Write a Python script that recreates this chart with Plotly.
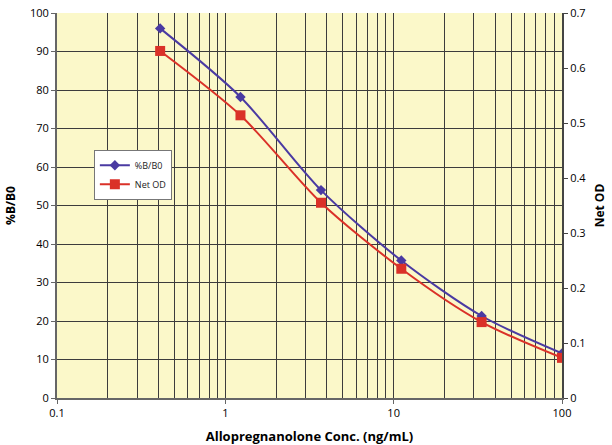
import plotly.graph_objects as go

# Standard concentrations (ng/mL) and responses
conc = [0.41, 1.23, 3.7, 11.1, 33.3, 100]
pct_b_b0 = [96.0, 78.2, 54.0, 35.7, 21.3, 11.6]
net_od = [0.631, 0.514, 0.355, 0.235, 0.138, 0.073]

x_ticks = [0.1, 1, 10, 100]
x_tick_labels = ["0.1", "1", "10", "100"]

BLUE = "#4a3aa2"
RED = "#da3128"
GRID = "#3c3c3c"
FONT = "'Open Sans', Lato, sans-serif"

fig = go.Figure()
fig.add_trace(go.Scatter(
    x=conc, y=pct_b_b0, name="%B/B0", mode="lines+markers",
    line=dict(color=BLUE, width=2, shape="spline", smoothing=0.8),
    marker=dict(symbol="diamond", size=8, color=BLUE),
))
fig.add_trace(go.Scatter(
    x=conc, y=net_od, name="Net OD", mode="lines+markers", yaxis="y2",
    line=dict(color=RED, width=2, shape="spline", smoothing=0.8),
    marker=dict(symbol="square", size=10, color=RED),
))

fig.update_layout(
    width=612, height=445,
    margin=dict(l=57, r=50, t=13, b=47),
    paper_bgcolor="white",
    plot_bgcolor="#fbf8c9",
    font=dict(family=FONT, size=11, color="#000"),
    showlegend=True,
    legend=dict(
        x=0.073, y=0.645, xanchor="left", yanchor="top",
        bgcolor="white", bordercolor="#777", borderwidth=1,
        font=dict(size=9, color="#222"), tracegroupgap=0,
        itemwidth=30,
    ),
    xaxis=dict(
        type="log", range=[-1, 2], automargin=False,
        tickvals=x_ticks, ticktext=x_tick_labels,
        showgrid=True, gridcolor=GRID, gridwidth=1,
        minor=dict(dtick="D1", showgrid=True, gridcolor=GRID, gridwidth=1, ticks=""),
        showline=True, linecolor="#666", linewidth=2,
        ticks="outside", ticklen=4, tickcolor="#666",
        title=dict(text="<b>Allopregnanolone Conc. (ng/mL)</b>", font=dict(size=13), standoff=14),
        zeroline=False,
    ),
    yaxis=dict(
        range=[0, 100], dtick=10, automargin=False,
        showgrid=True, gridcolor=GRID, gridwidth=1,
        showline=True, linecolor="#666", linewidth=2,
        ticks="outside", ticklen=4, tickcolor="#666",
        title=dict(text="<b>%B/B0</b>", font=dict(size=12), standoff=12),
        zeroline=False,
    ),
    yaxis2=dict(
        range=[0, 0.7], dtick=0.1, overlaying="y", side="right", automargin=False,
        showgrid=False, showline=True, linecolor="#444", linewidth=2,
        ticks="outside", ticklen=4, tickcolor="#444",
        title=dict(text="<b>Net OD</b>", font=dict(size=12), standoff=10),
        zeroline=False,
    ),
)

fig.write_html("out.html")
